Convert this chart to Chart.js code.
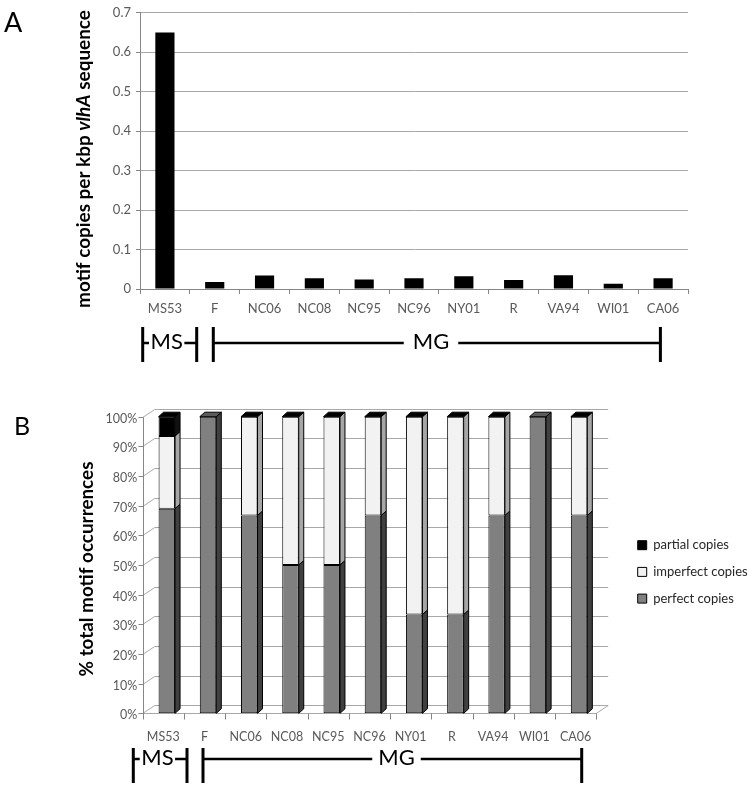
<!DOCTYPE html>
<html><head><meta charset="utf-8">
<script src="https://cdn.jsdelivr.net/npm/chart.js@4.4.1/dist/chart.umd.min.js"></script>
<style>
html,body{margin:0;padding:0;background:#fff;}
#wrap{position:relative;width:754px;height:789px;background:#fff;}
.box{position:absolute;left:0;width:754px;}
</style></head><body>
<div id="wrap">
<div class="box" style="top:0;height:395px"><canvas id="cA" width="754" height="395"></canvas></div>
<div class="box" style="top:395px;height:394px"><canvas id="cB" width="754" height="394"></canvas></div>
</div>
<script>
// ---------- data ----------
const strains = ['MS53','F','NC06','NC08','NC95','NC96','NY01','R','VA94','WI01','CA06'];
const motifCopiesPerKbp = [0.65,0.018,0.034,0.027,0.024,0.027,0.032,0.023,0.035,0.013,0.027];
const yTicksA = ['0','0.1','0.2','0.3','0.4','0.5','0.6','0.7'];
const perfectCopies   = [69,100,66.7,50,50,66.7,33.3,33.3,66.7,100,66.7];
const imperfectCopies = [24.5,null,33.3,50,50,33.3,66.7,66.7,33.3,null,33.3];
const partialCopies   = [6.5,null,0,0,0,0,0,0,0,null,0];
const yTicksB = ['0%','10%','20%','30%','40%','50%','60%','70%','80%','90%','100%'];
const seriesNamesB = ['perfect copies','imperfect copies','partial copies'];
const groupNames = ['MS','MG'];
const titleARuns = [{text:'motif copies per kbp ',italic:false},{text:'vlhA',italic:true},{text:' sequence',italic:false}];
const titleBRuns = [{text:'% total motif occurrences',italic:false}];
const panelLetters = ['A','B'];

// ---------- styles ----------
const FAM = 'Lato, "Open Sans", sans-serif';
const TICK_COLOR = '#595959';
const AXIS_COLOR = '#868686';
const GRID_COLOR = '#a8a8a8';
const frontColors = ['#808080','#f2f2f2','#000000'];
const sideColors  = ['#404040','#a6a6a6','#111111'];
const topColors   = ['#5c5c5c','#d9d9d9','#000000'];

function drawRotatedTitle(ctx, runs, cx, cy, target){
  ctx.save();
  const base = 17;
  let total = 0;
  runs.forEach(r=>{ctx.font=(r.italic?'italic ':'')+'bold '+base+'px '+FAM; total+=ctx.measureText(r.text).width;});
  const size = base*target/total;
  let widths=[]; total=0;
  runs.forEach(r=>{ctx.font=(r.italic?'italic ':'')+'bold '+size+'px '+FAM; const w=ctx.measureText(r.text).width; widths.push(w); total+=w;});
  ctx.translate(cx, cy); ctx.rotate(-Math.PI/2);
  ctx.textBaseline='middle'; ctx.textAlign='left'; ctx.fillStyle='#000';
  let x=-total/2;
  runs.forEach((r,i)=>{ctx.font=(r.italic?'italic ':'')+'bold '+size+'px '+FAM; ctx.fillText(r.text,x,0); x+=widths[i];});
  ctx.restore();
}

function drawBrackets(ctx, specs, yLine, yTop, yBot){
  ctx.save();
  ctx.strokeStyle='#000'; ctx.fillStyle='#000';
  ctx.font='22px '+FAM; ctx.textAlign='center'; ctx.textBaseline='middle';
  specs.forEach(s=>{
    const w = ctx.measureText(s.label).width;
    ctx.lineWidth=3;
    ctx.beginPath();
    ctx.moveTo(s.x1,yTop); ctx.lineTo(s.x1,yBot);
    ctx.moveTo(s.x2,yTop); ctx.lineTo(s.x2,yBot);
    ctx.stroke();
    ctx.lineWidth=2.5;
    ctx.beginPath();
    ctx.moveTo(s.x1,yLine); ctx.lineTo(s.tx-w/2-s.gap,yLine);
    ctx.moveTo(s.tx+w/2+s.gap,yLine); ctx.lineTo(s.x2,yLine);
    ctx.stroke();
    ctx.fillText(s.label, s.tx, yLine-1);
  });
  ctx.restore();
}

// ---------- Panel A ----------
const panelAPlugin = {
  id:'panelA',
  afterDraw(chart){
    const ctx=chart.ctx;
    drawRotatedTitle(ctx, titleARuns, 83.5, 159, 298);
    ctx.save(); ctx.fillStyle='#000'; ctx.font='27px '+FAM; ctx.textBaseline='alphabetic'; ctx.textAlign='left';
    ctx.fillText(panelLetters[0], 4, 32); ctx.restore();
    drawBrackets(ctx, [
      {label:groupNames[0], x1:142.7, x2:196.7, tx:166.7, gap:1.5},
      {label:groupNames[1], x1:213.3, x2:660.4, tx:431, gap:9}
    ], 343, 327, 362);
  }
};

new Chart(document.getElementById('cA'), {
  type:'bar',
  data:{labels:strains, datasets:[{label:'motif copies per kbp', data:motifCopiesPerKbp,
    backgroundColor:'#000', borderColor:'#000', borderWidth:0, barPercentage:0.385, categoryPercentage:1}]},
  options:{
    responsive:false, animation:false, events:[],
    layout:{padding:{left:0, top:10, right:66, bottom:0}},
    plugins:{legend:{display:false}, tooltip:{enabled:false}},
    scales:{
      x:{
        grid:{drawOnChartArea:false, offset:true, tickLength:5, color:AXIS_COLOR},
        border:{color:AXIS_COLOR},
        ticks:{font:{family:FAM,size:13}, color:TICK_COLOR, padding:7, maxRotation:0, autoSkip:false},
        afterFit(s){s.height=106;}
      },
      y:{
        min:0, max:0.7,
        grid:{color:GRID_COLOR, tickLength:4, tickColor:AXIS_COLOR, lineWidth:1},
        border:{color:AXIS_COLOR},
        ticks:{stepSize:0.1, font:{family:FAM,size:13}, color:TICK_COLOR, padding:5,
          callback:(v)=>yTicksA[Math.round(v*10)]},
        afterFit(s){s.width=140;}
      }
    }
  },
  plugins:[panelAPlugin]
});

// ---------- Panel B ----------
const SHIFT = 3.5;           // bars sit slightly right of category centre (3-D)
const WALL_DX = 12, WALL_DY = -8;
const BAR_DX = 5, BAR_DY = -4.5;

const panelBPlugin = {
  id:'panelB',
  afterLayout(chart){
    const lg = chart.legend;
    if(!lg) return;
    const w = lg.width, h = lg.height;
    lg.left = 624; lg.right = lg.left + w;
    lg.top = 130; lg.bottom = lg.top + h;
  },
  beforeDatasetsDraw(chart){
    const ctx=chart.ctx, ys=chart.scales.y, ca=chart.chartArea;
    const ax = ca.left - SHIFT;
    const catW = (ca.right-ca.left)/strains.length;
    const W = catW*strains.length;
    const y0 = ys.getPixelForValue(0), y100 = ys.getPixelForValue(100);
    ctx.save();
    ctx.strokeStyle=GRID_COLOR; ctx.lineWidth=1;
    ctx.beginPath();
    for(let i=0;i<yTicksB.length;i++){
      const yp = Math.round(ys.getPixelForValue(i*10))+0.5;
      ctx.moveTo(ax, yp); ctx.lineTo(ax+WALL_DX, yp+WALL_DY);
      ctx.lineTo(ax+WALL_DX+W, yp+WALL_DY);
    }
    const yb = Math.round(y0)+0.5;
    ctx.moveTo(ax, yb); ctx.lineTo(ax+W, yb); ctx.lineTo(ax+W+WALL_DX, yb+WALL_DY);
    ctx.stroke();
    ctx.strokeStyle=AXIS_COLOR;
    ctx.beginPath();
    const axp = Math.round(ax)+0.5;
    ctx.moveTo(axp, Math.round(y100)+0.5); ctx.lineTo(axp, yb);
    for(let i=0;i<yTicksB.length;i++){
      const yp = Math.round(ys.getPixelForValue(i*10))+0.5;
      ctx.moveTo(axp-5, yp); ctx.lineTo(axp, yp);
    }
    for(let k=0;k<=strains.length;k++){
      const xp = Math.round(ax+k*catW)+0.5;
      ctx.moveTo(xp, yb); ctx.lineTo(xp, yb+6);
    }
    ctx.stroke();
    ctx.restore();
  },
  afterDatasetsDraw(chart){
    const ctx=chart.ctx;
    const n = chart.data.datasets.length;
    ctx.save();
    ctx.strokeStyle='#000'; ctx.lineWidth=1; ctx.lineJoin='miter';
    for(let i=0;i<strains.length;i++){
      let last=null;
      for(let d=0; d<n; d++){
        const v = chart.data.datasets[d].data[i];
        if(v===null || v===undefined) continue;
        const el = chart.getDatasetMeta(d).data[i];
        const p = el.getProps(['x','y','base','width'], true);
        const l = p.x - p.width/2, r = p.x + p.width/2;
        const t = Math.min(p.y,p.base), b = Math.max(p.y,p.base);
        if(b-t>0.01){
          ctx.beginPath();
          ctx.moveTo(r, b); ctx.lineTo(r, t); ctx.lineTo(r+BAR_DX, t+BAR_DY); ctx.lineTo(r+BAR_DX, b+BAR_DY); ctx.closePath();
          ctx.fillStyle=sideColors[d]; ctx.fill(); ctx.stroke();
        }
        last={d,l,r,t};
      }
      if(last){
        ctx.beginPath();
        ctx.moveTo(last.l, last.t); ctx.lineTo(last.l+BAR_DX, last.t+BAR_DY);
        ctx.lineTo(last.r+BAR_DX, last.t+BAR_DY); ctx.lineTo(last.r, last.t); ctx.closePath();
        ctx.fillStyle=topColors[last.d]; ctx.fill(); ctx.stroke();
      }
    }
    ctx.restore();
  },
  afterDraw(chart){
    const ctx=chart.ctx;
    drawRotatedTitle(ctx, titleBRuns, 87, 174, 215);
    ctx.save(); ctx.fillStyle='#000'; ctx.font='25px '+FAM; ctx.textBaseline='alphabetic'; ctx.textAlign='left';
    ctx.fillText(panelLetters[1], 14, 40); ctx.restore();
    drawBrackets(ctx, [
      {label:groupNames[0], x1:133.3, x2:187, tx:157.4, gap:1.5},
      {label:groupNames[1], x1:203, x2:581.7, tx:396.5, gap:6}
    ], 364, 353, 388);
  }
};

const seriesB = [perfectCopies, imperfectCopies, partialCopies];
new Chart(document.getElementById('cB'), {
  type:'bar',
  data:{labels:strains, datasets: seriesB.map((arr,d)=>({
    label:seriesNamesB[d], data:arr, backgroundColor:frontColors[d], borderColor:'#000',
    borderWidth:1, borderSkipped:false, barPercentage:0.4, categoryPercentage:1
  }))},
  options:{
    responsive:false, animation:false, events:[],
    layout:{padding:{left:0, top:21.7, right:154.3, bottom:0}},
    plugins:{
      tooltip:{enabled:false},
      legend:{position:'chartArea', align:'start', reverse:true,
        labels:{boxWidth:9, boxHeight:9, padding:13.7, color:'#262626', font:{family:FAM,size:13}}}
    },
    scales:{
      x:{
        stacked:true,
        grid:{display:false, drawTicks:false}, border:{display:false},
        ticks:{font:{family:FAM,size:12.5}, color:TICK_COLOR, padding:16, labelOffset:-SHIFT, maxRotation:0, autoSkip:false},
        afterFit(s){s.height=394-318.3;}
      },
      y:{
        stacked:true, min:0, max:100,
        grid:{display:false, drawTicks:false}, border:{display:false},
        ticks:{stepSize:10, font:{family:FAM,size:12.5}, color:TICK_COLOR, padding:9, labelOffset:2,
          callback:(v)=>yTicksB[Math.round(v/10)]},
        afterFit(s){s.width=146.2;}
      }
    }
  },
  plugins:[panelBPlugin]
});
</script>
</body></html>
